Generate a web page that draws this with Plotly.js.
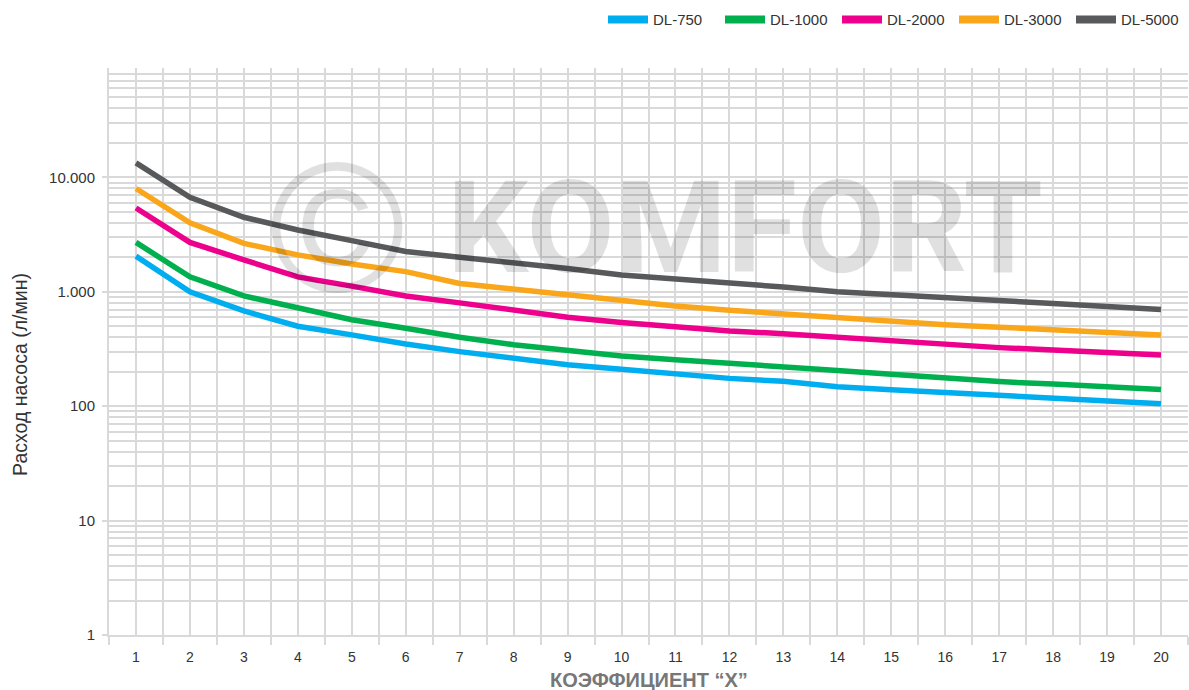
<!DOCTYPE html>
<html>
<head>
<meta charset="utf-8">
<script src="https://cdn.plot.ly/plotly-3.0.1.min.js"></script>
<style>html,body{margin:0;padding:0;background:#fff;}#chart{width:1189px;height:690px;}</style>
</head>
<body>
<div id="chart"></div>
<script>
var xValues = [1,2,3,4,5,6,7,8,9,10,11,12,13,14,15,16,17,18,19,20];
var seriesNames = ['DL-750','DL-1000','DL-2000','DL-3000','DL-5000'];
var dl750  = [2050,1000,680,500,420,350,300,260,230,210,190,175,165,148,139,131,124,117,111,105];
var dl1000 = [2700,1350,920,720,570,480,400,345,305,275,255,235,220,205,190,175,164,156,148,140];
var dl2000 = [5400,2700,1900,1350,1120,920,800,690,600,540,490,455,430,400,370,345,325,310,294,280];
var dl3000 = [8000,4000,2650,2100,1750,1500,1180,1050,930,830,750,690,640,590,550,515,490,465,440,420];
var dl5000 = [13400,6700,4480,3470,2800,2250,2000,1800,1600,1400,1300,1200,1100,1000,950,890,840,790,745,700];
var colors = ['#00AEEF','#00B04F','#EC008C','#FAA61A','#58595B'];
var yTitle = 'Расход насоса (л/мин)';
var xTitle = 'КОЭФФИЦИЕНТ “X”';
var watermarkSign = '©';
var watermarkWord = 'KOMFORT';

var allSeries = [dl750, dl1000, dl2000, dl3000, dl5000];
var traces = [];
allSeries.forEach(function(s, i){
  traces.push({x: xValues, y: s, type: 'scatter', mode: 'lines', name: seriesNames[i],
          legendgroup: seriesNames[i], showlegend: false,
          line: {color: colors[i], width: 5.5}});
});
// legend-only entries with thicker swatches
allSeries.forEach(function(s, i){
  traces.push({x: [null], y: [null], type: 'scatter', mode: 'lines', name: seriesNames[i],
          legendgroup: seriesNames[i], showlegend: true,
          line: {color: colors[i], width: 8}});
});

var gridC = '#d9d9d9';
var layout = {
  width: 1189, height: 690,
  margin: {l: 109, r: 1, t: 68, b: 55},
  paper_bgcolor: '#fff', plot_bgcolor: '#fff',
  separators: ',.',
  font: {family: 'Liberation Sans, Arial, sans-serif', color: '#333', size: 14},
  showlegend: true,
  legend: {orientation: 'h', x: 1, xanchor: 'right', y: 1.085, yanchor: 'middle',
           font: {size: 15, color: '#333'}, itemwidth: 40, entrywidth: 62, traceorder: 'normal', itemclick: false},
  xaxis: {range: [0.5, 20.5], tickmode: 'array', tickvals: xValues, ticktext: xValues.map(String),
          showgrid: true, gridcolor: gridC, gridwidth: 2, zeroline: false,
          ticks: 'outside', ticklen: 8, tickcolor: 'rgba(0,0,0,0)',
          showline: true, linecolor: gridC, linewidth: 2,
          tickfont: {size: 14, color: '#333'},
          minor: {tickmode: 'linear', tick0: 0.5, dtick: 1, showgrid: true, gridcolor: gridC, gridwidth: 2,
                  ticks: 'outside', ticklen: 8, tickcolor: gridC, tickwidth: 2}},
  yaxis: {type: 'log', range: [0, 4.956], dtick: 1, tickformat: ',d',
          showgrid: true, gridcolor: gridC, gridwidth: 2, zeroline: false,
          ticks: 'outside', ticklen: 5, tickcolor: gridC, tickwidth: 2, ticklabelstandoff: 4,
          showline: true, linecolor: gridC, linewidth: 2,
          tickfont: {size: 15, color: '#333'},
          minor: {dtick: 'D1', showgrid: true, gridcolor: gridC, gridwidth: 2}},
  annotations: [
    {text: watermarkSign, xref: 'paper', yref: 'paper', x: 0.211, y: 0.718, xanchor: 'center', yanchor: 'middle',
     showarrow: false, font: {family: 'Liberation Sans, Arial, sans-serif', size: 185, color: 'rgba(0,0,0,0.12)'}},
    {text: '<b>' + watermarkWord + '</b>', xref: 'paper', yref: 'paper', x: 0.589, y: 0.717, xanchor: 'center', yanchor: 'middle',
     showarrow: false, font: {family: 'Roboto, sans-serif', size: 128, color: 'rgba(0,0,0,0.12)'}},
    {text: yTitle, xref: 'paper', yref: 'paper', x: 0, xshift: -89, y: 0.4586, xanchor: 'center', yanchor: 'middle',
     textangle: -90, showarrow: false, font: {size: 19.5, color: '#333'}},
    {text: '<b>' + xTitle + '</b>', xref: 'paper', yref: 'paper', x: 0.5, y: 0, yshift: -45, xanchor: 'center', yanchor: 'middle',
     showarrow: false, font: {size: 20, color: '#777'}}
  ]
};

Plotly.newPlot('chart', traces, layout, {displayModeBar: false, staticPlot: true});
</script>
</body>
</html>
